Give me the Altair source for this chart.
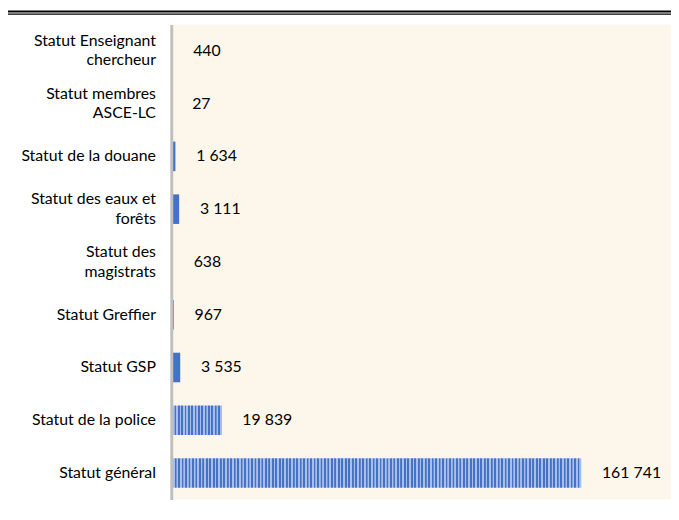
import altair as alt
import pandas as pd

categories = [
    "Statut Enseignant|chercheur",
    "Statut membres|ASCE-LC",
    "Statut de la douane",
    "Statut des eaux et|forêts",
    "Statut des|magistrats",
    "Statut Greffier",
    "Statut GSP",
    "Statut de la police",
    "Statut général",
]
values = [440, 27, 1634, 3111, 638, 967, 3535, 19839, 161741]
value_labels = ["440", "27", "1 634", "3 111", "638", "967", "3 535", "19 839", "161 741"]

PLOT_W = 505
PLOT_H = 480
X_MAX = 197200
STRIPE_PX = 3.5
DARK = "#4472C4"
LIGHT = "#A9BEE8"
LINE_H = 19.5

df = pd.DataFrame({"cat": categories, "value": values, "label": value_labels})
df["stripes"] = (df["value"] * PLOT_W / X_MAX / STRIPE_PX).round().astype(int)


def gradient(n):
    stops = []
    for i in range(n):
        for frac, col in [(0.0, DARK), (0.45, DARK), (0.55, LIGHT), (0.95, LIGHT)]:
            stops.append(alt.GradientStop(color=col, offset=(i + frac) / n))
    stops.append(alt.GradientStop(color=DARK, offset=1))
    return alt.LinearGradient(gradient="linear", stops=stops, x1=0, x2=1, y1=0, y2=0)


y_enc = alt.Y(
    "cat:N",
    scale=alt.Scale(domain=categories, paddingInner=0.44, paddingOuter=0.22),
    axis=alt.Axis(
        title=None,
        labelExpr="split(datum.label, '|')",
        labelFont="Lato",
        labelFontSize=16,
        labelColor="black",
        labelPadding=16,
        ticks=False,
        tickSize=0,
        domainColor="#BFBFBF",
        domainWidth=3,
        labelLineHeight=LINE_H,
        labelOffset={
            "condition": {"test": "indexof(datum.label, '|') >= 0", "value": -LINE_H / 2},
            "value": 0,
        },
        zindex=1,
        labelAlign="right",
        labelBaseline="middle",
        labelLimit=200,
        grid=False,
    ),
)
x_enc = alt.X("value:Q", scale=alt.Scale(domain=[0, X_MAX], nice=False), axis=None)

base = alt.Chart(df)
layers = [
    base.mark_bar(color=DARK).encode(x=x_enc, y=y_enc).transform_filter("datum.stripes <= 3")
]
for n in sorted(set(df["stripes"])):
    if n > 3:
        layers.append(
            base.mark_bar(color=gradient(int(n)))
            .encode(x=x_enc, y=y_enc)
            .transform_filter(f"datum.stripes == {int(n)}")
        )

text = base.mark_text(
    align="left", baseline="middle", dx=21, font="Lato", fontSize=16, color="black"
).encode(x=x_enc, y=y_enc, text="label:N")
layers.append(text)

one = alt.Chart(pd.DataFrame({"a": [0]}))
frame1 = one.mark_rule(color="black", strokeWidth=2).encode(
    x=alt.value(-165), x2=alt.value(PLOT_W), y=alt.value(-13)
)
frame2 = one.mark_rule(color="black", strokeWidth=1.3).encode(
    x=alt.value(-165), x2=alt.value(PLOT_W), y=alt.value(-10.4)
)
layers += [frame1, frame2]

chart = (
    alt.layer(*layers)
    .properties(
        width=PLOT_W,
        height=PLOT_H,
        padding={"left": 165, "top": 14, "right": 0, "bottom": 2},
        autosize=alt.AutoSizeParams(type="none"),
        background="white",
    )
    .configure_view(fill="#FDF6EB", strokeWidth=0)
)

chart.save("out.html", embed_options={"renderer": "svg", "actions": False})
